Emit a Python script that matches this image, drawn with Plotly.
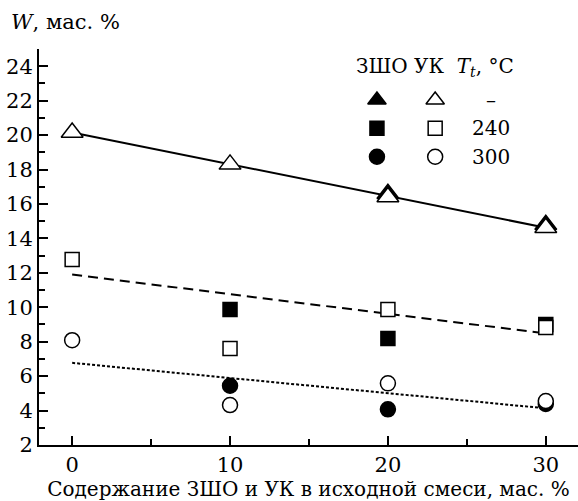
import plotly.graph_objects as go

# Содержание добавки в исходной смеси, мас. %
content = [0, 10, 20, 30]

# Выход W, мас. % — ЗШО (закрашенные) и УК (пустые) маркеры
zsho_none = [None, None, 16.6, 14.8]
uk_none = [20.15, 18.3, 16.4, 14.62]
zsho_240 = [None, 9.87, 8.18, 9.0]
uk_240 = [12.77, 7.6, 9.87, 8.82]
zsho_300 = [None, 5.44, 4.07, 4.38]
uk_300 = [8.09, 4.32, 5.58, 4.55]

# Линии тренда (значения на краях диапазона)
trend_x = [0, 30]
trend_none = [20.15, 14.62]
trend_240 = [11.9, 8.48]
trend_300 = [6.77, 4.13]

legend_temps = ["–", "240", "300"]

FONT = "DejaVu Serif"
BLACK = "black"

fig = go.Figure()

# trend lines
fig.add_trace(go.Scatter(x=trend_x, y=trend_none, mode="lines",
                         line=dict(color=BLACK, width=2)))
fig.add_trace(go.Scatter(x=trend_x, y=trend_240, mode="lines",
                         line=dict(color=BLACK, width=2, dash="10px,6px")))
fig.add_trace(go.Scatter(x=trend_x, y=trend_300, mode="lines",
                         line=dict(color=BLACK, width=2, dash="3px,2px")))

def pts(y, symbol, size, filled):
    return go.Scatter(
        x=content, y=y, mode="markers",
        marker=dict(symbol=symbol, size=size,
                    color=BLACK if filled else "white",
                    line=dict(color=BLACK, width=1.5)))

# filled markers first, open ones drawn on top
fig.add_trace(pts(zsho_none, "triangle-up", 19, True))
fig.add_trace(pts(zsho_240, "square", 14, True))
fig.add_trace(pts(zsho_300, "circle", 15, True))
fig.add_trace(pts(uk_none, "triangle-up", 19, False))
fig.add_trace(pts(uk_240, "square", 14, False))
fig.add_trace(pts(uk_300, "circle", 15, False))

# legend block on an overlay axis in fractional units
leg_rows = [0.871, 0.80, 0.728]
for sym, size, row in zip(["triangle-up", "square", "circle"], [16, 14, 15], leg_rows):
    fig.add_trace(go.Scatter(x=[0.627], y=[row], mode="markers", xaxis="x2", yaxis="y2",
                             marker=dict(symbol=sym, size=size, color=BLACK,
                                         line=dict(color=BLACK, width=1.5))))
    fig.add_trace(go.Scatter(x=[0.735], y=[row], mode="markers", xaxis="x2", yaxis="y2",
                             marker=dict(symbol=sym, size=size, color="white",
                                         line=dict(color=BLACK, width=1.5))))
for txt, row in zip(legend_temps, leg_rows):
    fig.add_annotation(x=0.838, y=row, xref="x2", yref="y2", text=txt, showarrow=False,
                       xanchor="center", yanchor="middle",
                       font=dict(family=FONT, size=20, color=BLACK))
fig.add_annotation(x=0.885, y=0.955, xref="x2", yref="y2",
                   text="ЗШО УК  <i>T<sub>t</sub></i>, °C", showarrow=False,
                   xanchor="right", yanchor="middle",
                   font=dict(family=FONT, size=20, color=BLACK))

# y-axis caption
fig.add_annotation(xref="paper", yref="paper", x=-0.055, y=1.068,
                   text="<i>W</i>, мас. %", showarrow=False,
                   xanchor="left", yanchor="middle",
                   font=dict(family=FONT, size=21, color=BLACK))

fig.update_layout(
    width=578, height=501,
    margin=dict(l=39, r=0, t=49, b=56),
    paper_bgcolor="white", plot_bgcolor="white",
    showlegend=False,
    font=dict(family=FONT, size=20, color=BLACK),
    xaxis=dict(range=[-2.1, 32.04], tickvals=[0, 10, 20, 30], ticks="inside",
               ticklen=9, tickwidth=1.5, tickcolor=BLACK,
               minor=dict(dtick=5, tick0=0, ticks="inside", ticklen=6, tickwidth=1.5, tickcolor=BLACK),
               showline=True, linecolor=BLACK, linewidth=2, showgrid=False, zeroline=False,
               title=dict(text="Содержание ЗШО и УК в исходной смеси, мас. %", standoff=0,
                          font=dict(family=FONT, size=20)),
               tickfont=dict(family=FONT, size=21)),
    yaxis=dict(range=[2, 25], tickvals=list(range(2, 25, 2)), ticks="inside",
               ticklen=9, tickwidth=1.5, tickcolor=BLACK,
               minor=dict(dtick=1, tick0=0, ticks="inside", ticklen=6, tickwidth=1.5, tickcolor=BLACK),
               showline=True, linecolor=BLACK, linewidth=2, showgrid=False, zeroline=False,
               tickfont=dict(family=FONT, size=21)),
    xaxis2=dict(range=[0, 1], overlaying="x", visible=False, fixedrange=True),
    yaxis2=dict(range=[0, 1], overlaying="y", visible=False, fixedrange=True),
)

fig.write_html("out.html")
